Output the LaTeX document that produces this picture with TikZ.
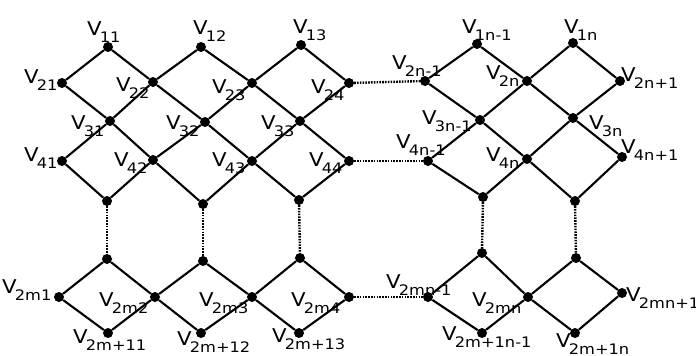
\documentclass[tikz,border=0pt]{standalone}
\usepackage{fontspec}
\setmainfont{DejaVu Sans}
\newcommand\vlab[1]{\scalebox{1.12}[1]{{\fontsize{19}{19}\selectfont V}\kern-1.5pt\raisebox{-7pt}{\fontsize{14.5}{14.5}\selectfont #1}}}
\begin{document}
\begin{tikzpicture}[x=1pt,y=-1pt,
  dot/.style={circle,fill=black,inner sep=0pt,minimum size=10pt},
  edge/.style={line width=2.1pt},
  dotline/.style={line width=2.4pt,dash pattern=on 1.6pt off 1.2pt},
  lab/.style={anchor=base west,inner sep=0pt,outer sep=0pt}]
\useasboundingbox (0,0) rectangle (696,356);
\fill[white] (0,0) rectangle (696,356);
% left block dots
\node[dot] (v11) at (108,47) {};
\node[dot] (v12) at (201,47) {};
\node[dot] (v13) at (301,45) {};
\node[dot] (v21) at (62,83) {};
\node[dot] (v22) at (153,82) {};
\node[dot] (v23) at (252,83) {};
\node[dot] (v24) at (349,83) {};
\node[dot] (v31) at (110,121) {};
\node[dot] (v32) at (205,122) {};
\node[dot] (v33) at (300,121) {};
\node[dot] (v41) at (62,161) {};
\node[dot] (v42) at (153,160) {};
\node[dot] (v43) at (252,161) {};
\node[dot] (v44) at (349,161) {};
\node[dot] (b1) at (107,201) {};
\node[dot] (b2) at (203,204) {};
\node[dot] (b3) at (299,200) {};
\node[dot] (c1) at (107,259) {};
\node[dot] (c2) at (203,261) {};
\node[dot] (c3) at (300,258) {};
\node[dot] (m1) at (59,297) {};
\node[dot] (m2) at (155,297) {};
\node[dot] (m3) at (252,297) {};
\node[dot] (m4) at (349,297) {};
\node[dot] (d1) at (108,333) {};
\node[dot] (d2) at (201,333) {};
\node[dot] (d3) at (299,333) {};
% right block dots
\node[dot] (n11) at (477,44) {};
\node[dot] (n12) at (573,43) {};
\node[dot] (n21) at (425,81) {};
\node[dot] (n22) at (527,81) {};
\node[dot] (n23) at (620,81) {};
\node[dot] (n31) at (480,120) {};
\node[dot] (n32) at (573,118) {};
\node[dot] (n41) at (428,161) {};
\node[dot] (n42) at (527,159) {};
\node[dot] (n43) at (622,157) {};
\node[dot] (b4) at (483,197) {};
\node[dot] (b5) at (575,201) {};
\node[dot] (c4) at (482,253) {};
\node[dot] (c5) at (576,258) {};
\node[dot] (m5) at (428,297) {};
\node[dot] (m6) at (528,297) {};
\node[dot] (m7) at (622,293) {};
\node[dot] (d4) at (482,333) {};
\node[dot] (d5) at (575,333) {};
% left edges
\draw[edge] (v21) -- (v11) -- (v22) -- (v12) -- (v23) -- (v13) -- (v24);
\draw[edge] (v21) -- (v31) -- (v22) -- (v32) -- (v23) -- (v33) -- (v24);
\draw[edge] (v41) -- (v31) -- (v42) -- (v32) -- (v43) -- (v33) -- (v44);
\draw[edge] (v41) -- (b1) -- (v42) -- (b2) -- (v43) -- (b3) -- (v44);
\draw[edge] (m1) -- (c1) -- (m2) -- (c2) -- (m3) -- (c3) -- (m4);
\draw[edge] (m1) -- (d1) -- (m2) -- (d2) -- (m3) -- (d3) -- (m4);
% right edges
\draw[edge] (n21) -- (n11) -- (n22) -- (n12) -- (n23);
\draw[edge] (n21) -- (n31) -- (n22) -- (n32) -- (n23);
\draw[edge] (n41) -- (n31) -- (n42) -- (n32) -- (n43);
\draw[edge] (n41) -- (b4) -- (n42) -- (b5) -- (n43);
\draw[edge] (m5) -- (c4) -- (m6) -- (c5) -- (m7);
\draw[edge] (m5) -- (d4) -- (m6) -- (d5) -- (m7);
% dotted
\draw[dotline] (b1) -- (c1);
\draw[dotline] (b2) -- (c2);
\draw[dotline] (b3) -- (c3);
\draw[dotline] (b4) -- (c4);
\draw[dotline] (b5) -- (c5);
\draw[dotline] (v24) -- (n21);
\draw[dotline] (v44) -- (n41);
\draw[dotline] (m4) -- (m5);
% labels
\node[lab] (l11) at (87,35) {\vlab{11}};
\node[lab] (l12) at (193,34) {\vlab{12}};
\node[lab] (l13) at (293,33) {\vlab{13}};
\node[lab] (l21) at (24,83) {\vlab{21}};
\node[lab] (l22) at (116,91) {\vlab{22}};
\node[lab] (l23) at (212,93) {\vlab{23}};
\node[lab] (l24) at (311,93) {\vlab{24}};
\node[lab] (l31) at (71,129) {\vlab{31}};
\node[lab] (l32) at (166,129) {\vlab{32}};
\node[lab] (l33) at (261,129) {\vlab{33}};
\node[lab] (l41) at (24,161) {\vlab{41}};
\node[lab] (l42) at (114,166) {\vlab{42}};
\node[lab] (l43) at (212,166) {\vlab{43}};
\node[lab] (l44) at (309,166) {\vlab{44}};
\node[lab] (ln11) at (462,33) {\vlab{1n-1}};
\node[lab] (ln12) at (564,33) {\vlab{1n}};
\node[lab] (ln21) at (392,69) {\vlab{2n-1}};
\node[lab] (ln22) at (486,79) {\vlab{2n}};
\node[lab] (ln23) at (621,81) {\vlab{2n+1}};
\node[lab] (ln31) at (422,124) {\vlab{3n-1}};
\node[lab] (ln32) at (589,129) {\vlab{3n}};
\node[lab] (ln41) at (396,148) {\vlab{4n-1}};
\node[lab] (ln42) at (486,161) {\vlab{4n}};
\node[lab] (ln43) at (621,153) {\vlab{4n+1}};
\node[lab] (lm1) at (2,293) {\vlab{2m1}};
\node[lab] (lm2) at (99,306) {\vlab{2m2}};
\node[lab] (lm3) at (199,306) {\vlab{2m3}};
\node[lab] (lm4) at (291,306) {\vlab{2m4}};
\node[lab] (ld1) at (73,343) {\vlab{2m+11}};
\node[lab] (ld2) at (177,345) {\vlab{2m+12}};
\node[lab] (ld3) at (272,342) {\vlab{2m+13}};
\node[lab] (lm5) at (386,288) {\vlab{2mn-1}};
\node[lab] (lm6) at (472,306) {\vlab{2mn}};
\node[lab] (lm7) at (626,301) {\vlab{2mn+1}};
\node[lab] (ld4) at (442,340) {\vlab{2m+1n-1}};
\node[lab] (ld5) at (556,347) {\vlab{2m+1n}};
\end{tikzpicture}
\end{document}
